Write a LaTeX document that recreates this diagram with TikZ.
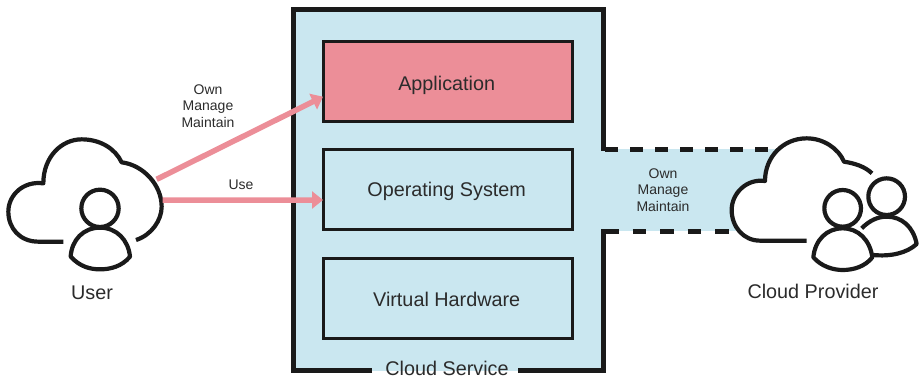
\documentclass[tikz,border=0pt]{standalone}
\usepackage{fontspec}
\setmainfont{Liberation Sans}
\usetikzlibrary{arrows.meta}
\definecolor{ink}{HTML}{1A1A1A}
\definecolor{txt}{HTML}{2B2B2B}
\definecolor{sky}{HTML}{CAE7F0}
\definecolor{rose}{HTML}{EC8E98}
\tikzset{
  x=1pt,y=-1pt,
  layer/.style={draw=ink,line width=3pt,minimum width=249pt,minimum height=80.5pt,inner sep=0pt,outer sep=0pt},
  biglabel/.style={text=txt,inner sep=0pt,anchor=base,font=\fontsize{19.8}{22}\selectfont},
  smalllabel/.style={text=txt,inner sep=0pt,align=center,font=\fontsize{14}{16.5}\selectfont},
  wall/.style={draw=ink,line width=5pt,line cap=butt,line join=miter},
  dashline/.style={draw=ink,line width=5pt},
  icon/.style={draw=ink,line width=4.2pt,line cap=butt,line join=round},
  pinkarrow/.style={draw=rose,line width=5.5pt,-{Triangle[length=11pt,width=17pt]}}
}
\begin{document}
\begin{tikzpicture}
\useasboundingbox (0,0) rectangle (921,378);
% service box
\fill[sky] (293,9) rectangle (603,371);
\fill[sky] (603,149) rectangle (790,231);
\draw[wall] (372,370) -- (293,370) -- (293,9) -- (603,9) -- (603,151);
\draw[wall] (603,229) -- (603,370) -- (518,370);
\draw[dashline,dash pattern=on 13pt off 12pt,dash phase=-5pt] (600,149) -- (782,149);
\draw[dashline,dash pattern=on 13.5pt off 14pt,dash phase=-5pt] (600,231) -- (740,231);
\node[layer,fill=rose] (app) at (447.8,81.7) {};
\node[layer,fill=sky] (os) at (447.8,189.7) {};
\node[layer,fill=sky] (hw) at (447.8,298.5) {};
\node[biglabel] (appt) at (446.7,90) {Application};
\node[biglabel] (ost) at (446.7,196.7) {Operating System};
\node[biglabel] (hwt) at (446.7,306) {Virtual Hardware};
\node[biglabel] (svc) at (447,375.3) {Cloud Service};
% user icon
\begin{scope}[shift={(0,60)},scale=1/3]
  \draw[icon] (190,545) -- (115,545) .. controls (60,545) and (25,505) .. (25,455)
    .. controls (25,405) and (70,362) .. (130,370)
    .. controls (130,290) and (185,238) .. (245,238)
    .. controls (300,238) and (345,265) .. (365,307)
    .. controls (430,315) and (485,375) .. (485,440)
    .. controls (485,480) and (455,525) .. (408,540);
  \draw[icon] (300,445) circle[radius=56];
  \draw[icon] (300,503) .. controls (250,503) and (215,540) .. (212,590)
    .. controls (240,620) and (270,628) .. (300,628)
    .. controls (330,628) and (365,620) .. (390,590)
    .. controls (385,540) and (350,503) .. (300,503) -- cycle;
  \coordinate (ua) at (470,358);
  \coordinate (ub) at (488,420);
\end{scope}
% provider icon
\begin{scope}[shift={(590,120)},scale=1/3]
  \fill[white] (650,362) -- (510,362) .. controls (460,362) and (425,320) .. (425,270)
    .. controls (425,220) and (470,175) .. (525,183)
    .. controls (525,110) and (580,55) .. (650,55)
    .. controls (700,55) and (745,85) .. (762,125)
    .. controls (795,130) and (825,140) .. (846,160) -- cycle;
  \draw[icon] (650,362) -- (510,362) .. controls (460,362) and (425,320) .. (425,270)
    .. controls (425,220) and (470,175) .. (525,183)
    .. controls (525,110) and (580,55) .. (650,55)
    .. controls (700,55) and (745,85) .. (762,125)
    .. controls (795,130) and (825,140) .. (846,160);
  \draw[icon] (890,230) circle[radius=55];
  \draw[icon] (815,325) .. controls (840,300) and (865,290) .. (890,290)
    .. controls (935,290) and (970,320) .. (980,372)
    .. controls (950,400) and (900,410) .. (850,405);
  \draw[icon] (758,265) circle[radius=55];
  \draw[icon] (758,325) .. controls (710,325) and (675,360) .. (670,412)
    .. controls (695,440) and (730,450) .. (758,450)
    .. controls (790,450) and (825,440) .. (847,412)
    .. controls (840,360) and (805,325) .. (758,325) -- cycle;
\end{scope}
% arrows
\coordinate (appin) at (323,96.7);
\coordinate (osin) at (323,200);
\draw[pinkarrow] (ua) -- (appin);
\draw[pinkarrow] (ub) -- (osin);
% labels
\node[smalllabel] (l1) at (208,106) {Own\\Manage\\Maintain};
\node[smalllabel] (l2) at (241,185) {Use};
\node[smalllabel] (l3) at (663,190) {Own\\Manage\\Maintain};
\node[biglabel] (lu) at (92,299) {User};
\node[biglabel] (lp) at (813,298.5) {Cloud Provider};
\end{tikzpicture}
\end{document}
